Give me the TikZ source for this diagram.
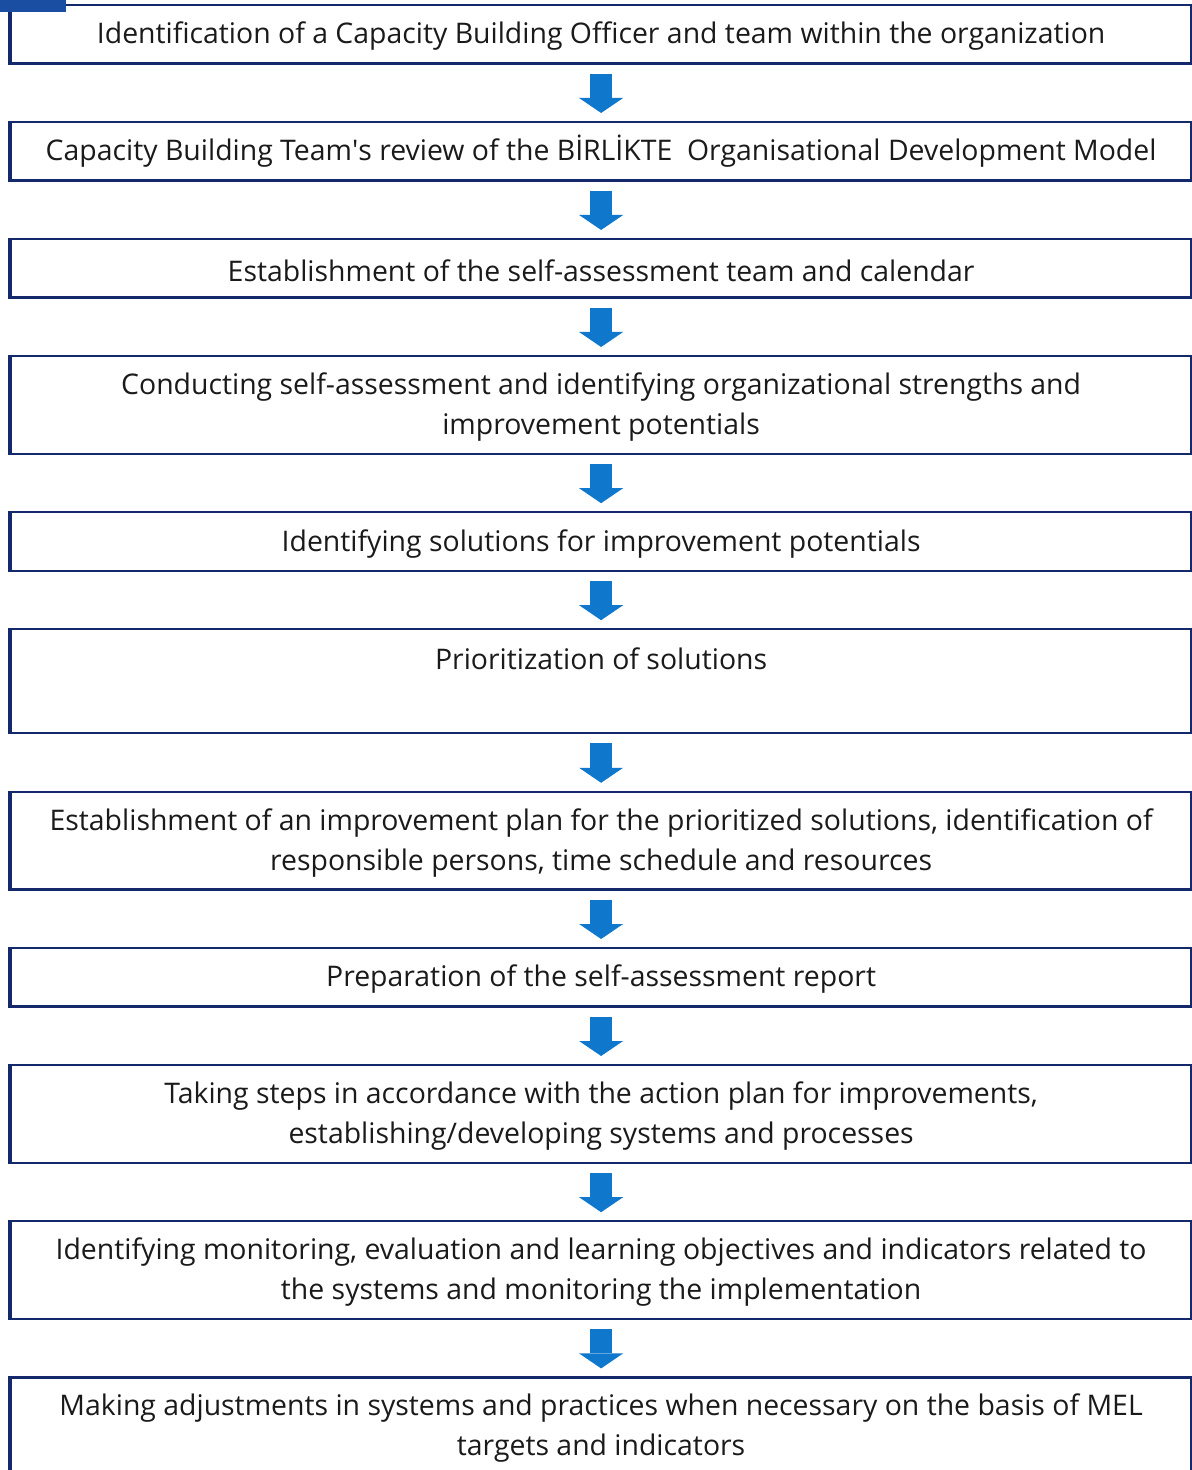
\documentclass[tikz,border=0pt]{standalone}
\usepackage{fontspec}
\setmainfont{Open Sans}
\usetikzlibrary{positioning,arrows.meta}

\definecolor{boxnavy}{HTML}{13296B}
\definecolor{arrowblue}{HTML}{0F77CC}
\definecolor{markblue}{HTML}{1A4EA3}
\definecolor{textgrey}{HTML}{1A1A1A}

\tikzset{
  stepbox/.style={draw=boxnavy, line width=1.1pt, minimum width=590pt,
    minimum height=29.2pt, align=center, inner sep=2pt, text=textgrey,
    text height=13pt, font=\fontsize{14.2pt}{20pt}\selectfont},
  twoline/.style={minimum height=48.8pt, text height=33pt},
  leftedge/.style={draw=boxnavy, line width=2.2pt},
  downarrow/.style={draw=arrowblue, line width=11pt,
    -{Triangle[width=22pt,length=7.5pt,line width=0pt]},
    shorten <=4.5pt, shorten >=4pt}
}

\begin{document}
\begin{tikzpicture}[node distance=28.2pt]
  \useasboundingbox (0,0) rectangle (595.5pt,-735pt);

  \node[stepbox, anchor=north west] (step1) at (5pt,-2pt)
    {Identification of a Capacity Building Officer and team within the organization};
  \node[stepbox, below=of step1] (step2)
    {Capacity Building Team\textquotesingle s review of the BİRLİKTE~ Organisational Development Model};
  \node[stepbox, below=of step2] (step3)
    {Establishment of the self-assessment team and calendar};
  \node[stepbox, twoline, below=of step3] (step4)
    {Conducting self-assessment and identifying organizational strengths and\\improvement potentials};
  \node[stepbox, below=of step4] (step5)
    {Identifying solutions for improvement potentials};
  \node[stepbox, minimum height=52pt, text height=18pt, text depth=30pt,
    below=of step5] (step6)
    {Prioritization of solutions};
  \node[stepbox, twoline, below=of step6] (step7)
    {Establishment of an improvement plan for the prioritized solutions, identification of\\responsible persons, time schedule and resources};
  \node[stepbox, below=of step7] (step8)
    {Preparation of the self-assessment report};
  \node[stepbox, twoline, below=of step8] (step9)
    {Taking steps in accordance with the action plan for improvements,\\establishing/developing systems and processes};
  \node[stepbox, twoline, below=of step9] (step10)
    {Identifying monitoring, evaluation and learning objectives and indicators related to\\the systems and monitoring the implementation};
  \node[stepbox, twoline, below=of step10] (step11)
    {Making adjustments in systems and practices when necessary on the basis of MEL\\targets and indicators};

  % heavier rule down the left side of each box
  \draw[leftedge] (step1.north west) -- (step1.south west);
  \draw[leftedge] (step2.north west) -- (step2.south west);
  \draw[leftedge] (step3.north west) -- (step3.south west);
  \draw[leftedge] (step4.north west) -- (step4.south west);
  \draw[leftedge] (step5.north west) -- (step5.south west);
  \draw[leftedge] (step6.north west) -- (step6.south west);
  \draw[leftedge] (step7.north west) -- (step7.south west);
  \draw[leftedge] (step8.north west) -- (step8.south west);
  \draw[leftedge] (step9.north west) -- (step9.south west);
  \draw[leftedge] (step10.north west) -- (step10.south west);
  \draw[leftedge] (step11.north west) -- (step11.south west);

  % block arrows between the steps
  \draw[downarrow] (step1) -- (step2);
  \draw[downarrow] (step2) -- (step3);
  \draw[downarrow] (step3) -- (step4);
  \draw[downarrow] (step4) -- (step5);
  \draw[downarrow] (step5) -- (step6);
  \draw[downarrow] (step6) -- (step7);
  \draw[downarrow] (step7) -- (step8);
  \draw[downarrow] (step8) -- (step9);
  \draw[downarrow] (step9) -- (step10);
  \draw[downarrow] (step10) -- (step11);

  % small tab in the corner
  \fill[markblue] (0,0) rectangle (33pt,-6pt);
\end{tikzpicture}
\end{document}
